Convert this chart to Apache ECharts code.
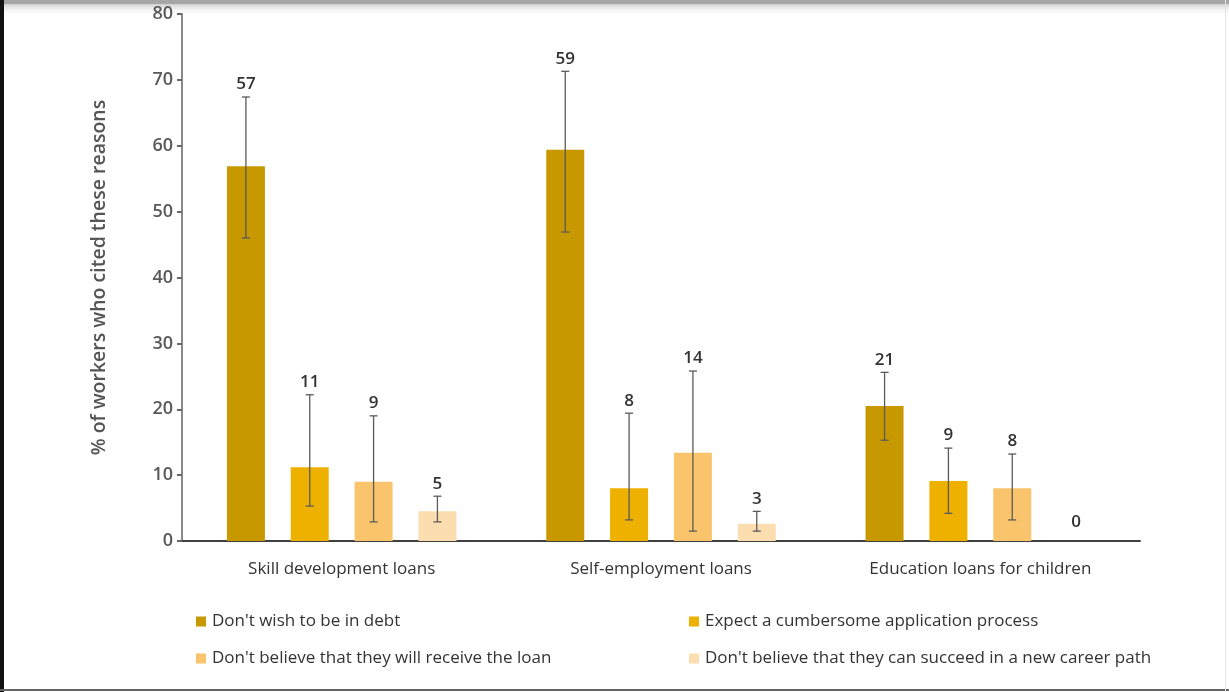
<!DOCTYPE html>
<html>
<head>
<meta charset="utf-8">
<script src="https://cdn.jsdelivr.net/npm/echarts@6/dist/echarts.min.js"></script>
<style>
html,body{margin:0;padding:0;background:#fff;}
#c{width:1229px;height:692px;}
</style>
</head>
<body>
<div id="c"></div>
<script>
// ---- data ----
const categories = ['Skill development loans', 'Self-employment loans', 'Education loans for children'];
const seriesNames = [
  "Don't wish to be in debt",
  'Expect a cumbersome application process',
  "Don't believe that they will receive the loan",
  "Don't believe that they can succeed in a new career path"
];
const debtValues      = [56.9, 59.4, 20.5];
const processValues   = [11.2, 8.0, 9.1];
const receiveValues   = [9.0, 13.4, 8.0];
const careerValues    = [4.5, 2.6, 0];
const debtLabels    = ['57', '59', '21'];
const processLabels = ['11', '8', '9'];
const receiveLabels = ['9', '14', '8'];
const careerLabels  = ['5', '3', '0'];
const debtErrLow     = [46.0, 46.9, 15.3];
const debtErrHigh    = [67.4, 71.3, 25.6];
const processErrLow  = [5.3, 3.2, 4.2];
const processErrHigh = [22.2, 19.4, 14.1];
const receiveErrLow  = [2.9, 1.5, 3.2];
const receiveErrHigh = [19.0, 25.8, 13.2];
const careerErrLow   = [2.9, 1.5, null];
const careerErrHigh  = [6.8, 4.5, null];
const yTicks = [0, 10, 20, 30, 40, 50, 60, 70, 80];

const values = [debtValues, processValues, receiveValues, careerValues];
const labels = [debtLabels, processLabels, receiveLabels, careerLabels];
const errLow = [debtErrLow, processErrLow, receiveErrLow, careerErrLow];
const errHigh = [debtErrHigh, processErrHigh, receiveErrHigh, careerErrHigh];
const colors = ['#C89800', '#EFB100', '#FAC46C', '#FCDDB0'];

const BAR_W = 38;
const BAR_GAP = 0.68;
const PITCH = BAR_W * (1 + BAR_GAP);

// error-bar items: [catIndex, seriesIndex, low, high, value, label]
const errData = [];
for (let s = 0; s < 4; s++) {
  for (let c = 0; c < categories.length; c++) {
    errData.push([c, s, errLow[s][c], errHigh[s][c], values[s][c], labels[s][c]]);
  }
}

const FONT = '"Open Sans", "Noto Sans", sans-serif';

const chart = echarts.init(document.getElementById('c'), null, {renderer: 'canvas'});

const barSeries = seriesNames.map((n, i) => ({
  name: n,
  type: 'bar',
  data: values[i],
  barWidth: BAR_W,
  barGap: (BAR_GAP * 100) + '%',
  itemStyle: {color: colors[i]},
  z: 2
}));

const errSeries = {
  type: 'custom',
  name: 'err',
  data: errData,
  z: 5,
  encode: {x: 0, y: 3},
  renderItem: function (params, api) {
    const c = api.value(0), s = api.value(1);
    const lowV = api.value(2), highV = api.value(3), v = api.value(4);
    const lab = errData[params.dataIndex][5];
    const center = api.coord([c, 0]);
    const x = center[0] + (s - 1.5) * PITCH;
    const children = [];
    let topY;
    if (lowV != null && !isNaN(lowV) && highV != null && !isNaN(highV)) {
      const yl = api.coord([c, lowV])[1];
      const yh = api.coord([c, highV])[1];
      const st = {stroke: '#5a5a5a', lineWidth: 1.3};
      children.push({type: 'line', shape: {x1: x, y1: yl, x2: x, y2: yh}, style: st});
      children.push({type: 'line', shape: {x1: x - 4, y1: yl, x2: x + 4, y2: yl}, style: st});
      children.push({type: 'line', shape: {x1: x - 4, y1: yh, x2: x + 4, y2: yh}, style: st});
      topY = yh;
    } else {
      topY = api.coord([c, v])[1] - 6;
    }
    children.push({
      type: 'text',
      style: {
        text: lab, x: x, y: topY - 4,
        align: 'center', verticalAlign: 'bottom',
        fill: '#333', font: '600 17px ' + FONT
      }
    });
    return {type: 'group', children: children};
  }
};

const legendPos = [
  {left: 196, top: 613},
  {left: 689, top: 613},
  {left: 196, top: 650},
  {left: 689, top: 650}
];

const option = {
  animation: false,
  backgroundColor: '#fff',
  grid: {left: 182, right: 89, top: 14, bottom: 151, containLabel: false},
  xAxis: {
    type: 'category',
    data: categories,
    axisLine: {lineStyle: {color: '#404040', width: 2}},
    axisTick: {show: false},
    axisLabel: {color: '#333', fontSize: 17, fontFamily: FONT, margin: 20}
  },
  yAxis: {
    type: 'value',
    min: 0, max: 80, interval: 10,
    name: '% of workers who cited these reasons',
    nameLocation: 'middle',
    nameGap: 73,
    nameTextStyle: {color: '#555', fontSize: 19.5, fontFamily: FONT, fontWeight: 600},
    axisLine: {show: true, lineStyle: {color: '#8a8a8a', width: 2}},
    axisTick: {show: true, length: 5, lineStyle: {color: '#666', width: 2}},
    axisLabel: {
      color: '#595959', fontSize: 18, fontFamily: FONT, fontWeight: 600, margin: 9,
      formatter: v => (yTicks.indexOf(v) >= 0 ? String(v) : '')
    },
    splitLine: {show: false}
  },
  legend: seriesNames.map((n, i) => ({
    data: [n],
    left: legendPos[i].left,
    top: legendPos[i].top,
    icon: 'rect',
    itemWidth: 10,
    itemHeight: 10,
    itemGap: 0,
    padding: 0,
    selectedMode: false,
    textStyle: {color: '#333', fontSize: 17, fontFamily: FONT, padding: [0, 0, 0, 1]}
  })),
  series: barSeries.concat([errSeries]),
  graphic: [
    {type: 'rect', left: 0, top: 0, shape: {width: 1229, height: 4}, style: {fill: '#a6a6a6'}, silent: true},
    {type: 'rect', left: 0, top: 4, shape: {width: 1229, height: 12},
      style: {fill: new echarts.graphic.LinearGradient(0, 0, 0, 1, [{offset: 0, color: '#cfcfcf'}, {offset: 1, color: 'rgba(255,255,255,0)'}])}, silent: true},
    {type: 'rect', left: 0, top: 0, shape: {width: 4, height: 692}, style: {fill: '#111'}, silent: true},
    {type: 'rect', left: 0, top: 689, shape: {width: 1229, height: 2}, style: {fill: '#666'}, silent: true},
    {type: 'rect', left: 1225, top: 0, shape: {width: 1, height: 692}, style: {fill: '#e4e4e4'}, silent: true}
  ]
};

chart.setOption(option);
</script>
</body>
</html>
